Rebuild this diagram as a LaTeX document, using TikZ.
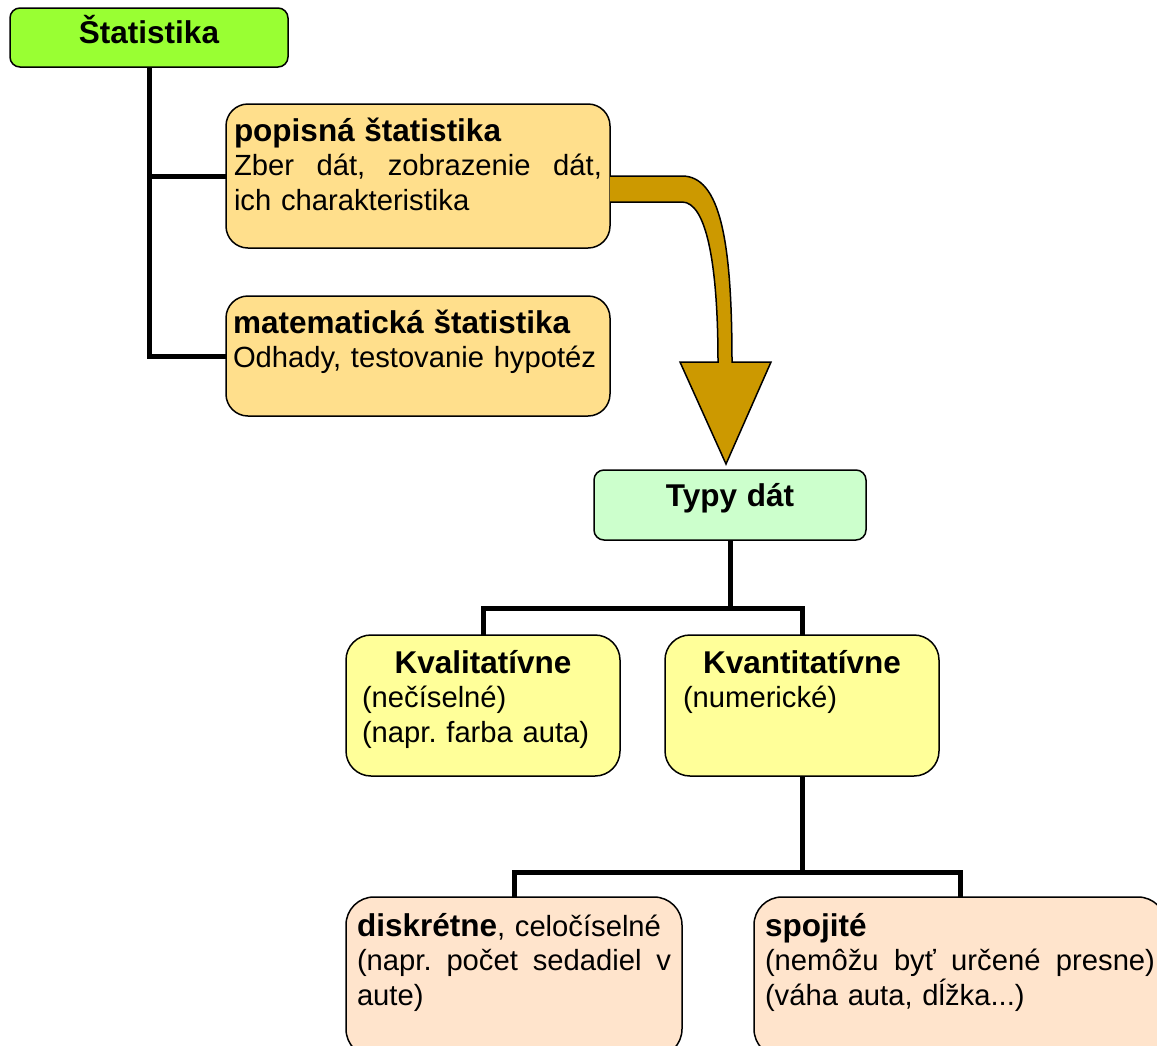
\documentclass[tikz,border=0pt]{standalone}
\usepackage{fontspec}
\setmainfont{Liberation Sans}
\frenchspacing
\definecolor{cgreen}{HTML}{99FF33}
\definecolor{corange}{HTML}{FFDF8C}
\definecolor{carrow}{HTML}{CC9900}
\definecolor{cmint}{HTML}{CCFFCC}
\definecolor{cyellow}{HTML}{FFFF99}
\definecolor{cpeach}{HTML}{FFE4CC}
\newcommand\hdfont{\fontsize{31.5}{34.5}\selectfont\bfseries}
\newcommand\fullline[1]{\leavevmode\hbox to\linewidth{#1}}
\begin{document}
\begin{tikzpicture}[x=1pt,y=-1pt,
  bx/.style={draw=black, line width=1.5pt, anchor=north west, inner xsep=0pt, inner ysep=0pt,
    outer sep=0pt, align=left, font=\fontsize{29.2}{34.5}\selectfont\frenchspacing},
  conn/.style={draw=black, line width=5pt}]
\useasboundingbox (0,0) rectangle (1157,1045);
\clip (0,0) rectangle (1157,1045);

\node[bx, fill=cgreen, rounded corners=10pt, inner xsep=8pt, text width=262pt, align=center,
  text height=35pt, text depth=24pt] (stat) at (10,8) {\hdfont Štatistika};

\node[bx, fill=corange, rounded corners=22pt, inner xsep=8pt, text width=368pt,
  text height=37pt, text depth=107pt] (pop) at (226,104)
  {{\hdfont popisná štatistika}\\
   \fullline{Zber\hfill dát,\hfill zobrazenie\hfill dát,}\\
   ich charakteristika};

\node[bx, fill=corange, rounded corners=22pt, inner xsep=7pt, text width=370pt,
  text height=37pt, text depth=83pt] (mat) at (226,296)
  {{\hdfont matematická štatistika}\\ Odhady, testovanie hypotéz};

\node[bx, fill=cmint, rounded corners=10pt, inner xsep=8pt, text width=256pt, align=center,
  text height=36pt, text depth=34pt] (typy) at (594,470) {\hdfont Typy dát};

\node[bx, fill=cyellow, rounded corners=25pt, inner xsep=16pt, text width=242pt,
  text height=38pt, text depth=103pt] (kval) at (346,635)
  {\fullline{\hfil\hdfont Kvalitatívne\hfil}\\ (nečíselné)\\ (napr. farba auta)};

\node[bx, fill=cyellow, rounded corners=25pt, inner xsep=18pt, text width=238pt,
  text height=38pt, text depth=103pt] (kvan) at (665,635)
  {\fullline{\hfil\hdfont Kvantitatívne\hfil}\\ (numerické)};

\node[bx, fill=cpeach, rounded corners=28pt, inner xsep=11pt, text width=314pt,
  text height=39pt, text depth=121pt] (disk) at (346,897)
  {{\hdfont diskrétne}, celočíselné\\
   \fullline{(napr.\hfill počet\hfill sedadiel\hfill v}\\
   aute)};

\node[bx, fill=cpeach, rounded corners=28pt, inner xsep=11pt, text width=390pt,
  text height=39pt, text depth=121pt] (spoj) at (754,897)
  {{\hdfont spojité}\\
   \fullline{(nemôžu\hfill byť\hfill určené\hfill presne)}\\
   (váha auta, dĺžka...)};

% connectors
\draw[conn] (stat.south) |- (mat.west);
\draw[conn] (stat.south |- pop.west) -- (pop.west);

\coordinate (j1) at (typy.south |- 0,608);
\draw[conn] (typy.south) -- (j1);
\draw[conn] (kval.north) |- (j1) -| (kvan.north);

\coordinate (j2) at (kvan.south |- 0,872);
\draw[conn] (kvan.south) -- (j2);
\draw[conn] (disk.north) |- (j2) -| (spoj.north);

% big curved arrow
\coordinate (a1) at (pop.east);
\coordinate (a2) at ([yshift=-26pt]pop.east);
\filldraw[fill=carrow, draw=black, line width=1.5pt, line join=miter]
  (a1) -- (682,176) .. controls (720,176) and (732,240) .. (732,362)
  -- (771,362) -- (726,464) -- (680,362) -- (718,362)
  .. controls (718,262) and (706,202) .. (682,202) -- (a2);
\end{tikzpicture}
\end{document}
